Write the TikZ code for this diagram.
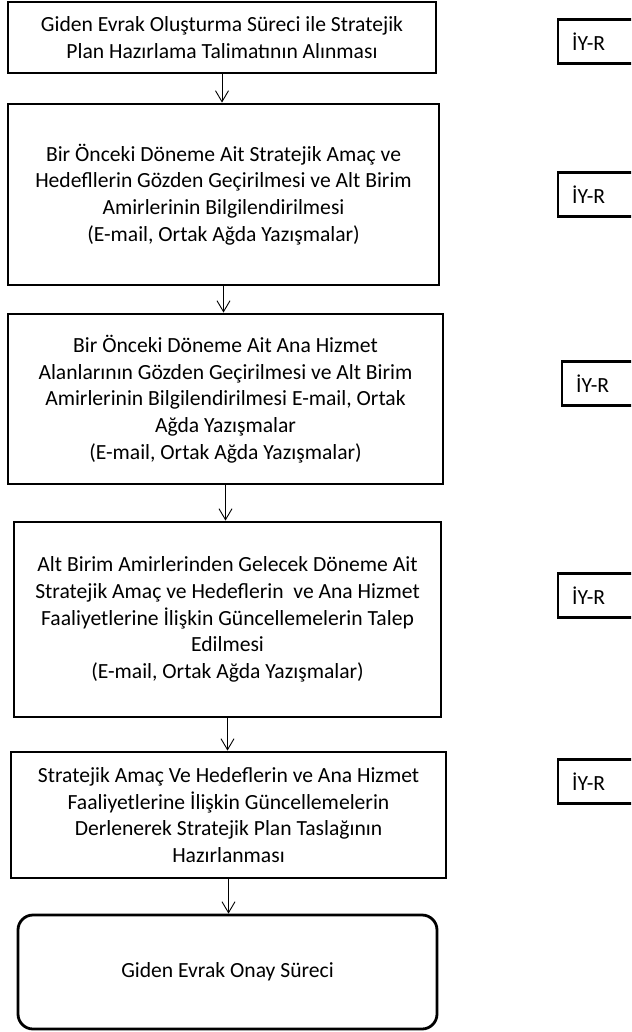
\documentclass[tikz,border=0pt]{standalone}
\usepackage{fontspec}
\setmainfont{Carlito}
\usetikzlibrary{arrows.meta}
\begin{document}
\begin{tikzpicture}[x=1pt,y=-1pt,
  stepbox/.style={draw=black,line width=2.8pt,align=center,inner sep=0pt,
    font=\fontsize{21.6}{26.8}\selectfont},
  endbox/.style={stepbox,rounded corners=15pt},
  rolebox/.style={draw=black,line width=2.2pt,anchor=west,align=left,
    text width=80pt,inner xsep=14pt,inner ysep=0pt,minimum height=44pt,
    font=\fontsize{21.6}{24}\selectfont},
  flow/.style={line width=0.9pt,-{Straight Barb[length=11pt,width=13pt,line width=0.9pt]}}]
\useasboundingbox (0,0) rectangle (631,1032);
\clip (0,0) rectangle (631,1032);

\node[stepbox,minimum width=428pt,minimum height=71pt] (b1) at (222,37.5)
  {Giden Evrak Oluşturma Süreci ile Stratejik\\Plan Hazırlama Talimatının Alınması};
\node[stepbox,minimum width=431pt,minimum height=181pt] (b2) at (223.5,194.5)
  {Bir Önceki Döneme Ait Stratejik Amaç ve\\Hedefllerin Gözden Geçirilmesi ve Alt Birim\\Amirlerinin Bilgilendirilmesi\\(E-mail, Ortak Ağda Yazışmalar)};
\node[stepbox,minimum width=435pt,minimum height=170pt] (b3) at (225.5,399)
  {Bir Önceki Döneme Ait Ana Hizmet\\Alanlarının Gözden Geçirilmesi ve Alt Birim\\Amirlerinin Bilgilendirilmesi E-mail, Ortak\\Ağda Yazışmalar\\(E-mail, Ortak Ağda Yazışmalar)};
\node[stepbox,minimum width=427pt,minimum height=195pt] (b4) at (227.5,619.5)
  {Alt Birim Amirlerinden Gelecek Döneme Ait\\Stratejik Amaç ve Hedeflerin\ \ ve Ana Hizmet\\Faaliyetlerine İlişkin Güncellemelerin Talep\\Edilmesi\\(E-mail, Ortak Ağda Yazışmalar)};
\node[stepbox,minimum width=435pt,minimum height=126pt] (b5) at (228.5,815)
  {Stratejik Amaç Ve Hedeflerin ve Ana Hizmet\\Faaliyetlerine İlişkin Güncellemelerin\\Derlenerek Stratejik Plan Taslağının\\Hazırlanması};
\node[endbox,minimum width=419pt,minimum height=114pt] (b6) at (227.5,972)
  {Giden Evrak Onay Süreci};

\draw[flow] (b1.south) -- (b1.south |- b2.north);
\draw[flow] (b2.south) -- (b2.south |- b3.north);
\draw[flow] (b3.south) -- (b3.south |- b4.north);
\draw[flow] (b4.south) -- (b4.south |- b5.north);
\draw[flow] (b5.south) -- (b5.south |- b6.north);

\node[rolebox] (r1) at (557,41.5) {İY-R};
\node[rolebox] (r2) at (557,194.5) {İY-R};
\node[rolebox] (r3) at (561,383.5) {İY-R};
\node[rolebox] (r4) at (557,595.5) {İY-R};
\node[rolebox] (r5) at (557,781.5) {İY-R};
\end{tikzpicture}
\end{document}
